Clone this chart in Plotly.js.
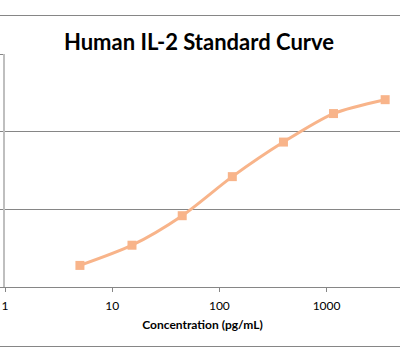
<!DOCTYPE html>
<html>
<head>
<meta charset="utf-8">
<script src="https://cdn.plot.ly/plotly-3.0.1.min.js"></script>
<style>
html,body{margin:0;padding:0;background:#fff;}
#wrap{position:relative;width:400px;height:362px;}
#chart{width:400px;height:362px;}
.frame{position:absolute;left:0;width:400px;height:1px;background:#868686;pointer-events:none;}
</style>
</head>
<body>
<div id="wrap">
<div id="chart"></div>
<div class="frame" style="top:15px"></div>
<div class="frame" style="top:346px"></div>
</div>
<script>
// Data (Concentration pg/mL vs signal)
var concentration = [5.0, 15.3, 45, 132, 396, 1160, 3520];
var signal = [0.278, 0.538, 0.918, 1.421, 1.866, 2.233, 2.412];
var xTickVals = [1, 10, 100, 1000];
var xTickText = ['1', '10', '100', '1000'];

var color = '#F8B48A';
var fontFam = 'Lato, "Open Sans", sans-serif';
var trace = {
  x: concentration,
  y: signal,
  type: 'scatter',
  mode: 'lines+markers',
  line: {color: color, width: 3, shape: 'spline', smoothing: 0.8},
  marker: {symbol: 'square', size: 9, color: color},
  hoverinfo: 'skip',
  cliponaxis: false
};

var layout = {
  width: 400, height: 362,
  margin: {l: 5, r: 0, t: 53.5, b: 74.5},
  paper_bgcolor: '#fff', plot_bgcolor: '#fff',
  showlegend: false,
  font: {family: fontFam, color: '#000'},
  title: {
    text: '<b>Human IL-2 Standard Curve</b>',
    font: {size: 22, family: fontFam, color: '#000'},
    x: 0.4975, xanchor: 'center', xref: 'container',
    y: 0.884, yref: 'container', yanchor: 'middle'
  },
  xaxis: {
    type: 'log',
    range: [0, 3.685],
    tickvals: xTickVals,
    ticktext: xTickText,
    ticks: 'outside', ticklen: 4, tickcolor: '#868686', tickwidth: 1,
    ticklabelstandoff: 4,
    showline: true, linecolor: '#868686', linewidth: 1,
    showgrid: false, zeroline: false,
    tickfont: {size: 12, family: fontFam, color: '#000'},
    title: {text: '<b>Concentration (pg/mL)</b>', font: {size: 12, family: fontFam, color: '#000'}, standoff: 8}
  },
  yaxis: {
    range: [0, 3],
    dtick: 1,
    showticklabels: false,
    ticks: 'outside', ticklen: 4, tickcolor: '#868686',
    showline: true, linecolor: '#BFBFBF', linewidth: 2,
    showgrid: true, gridcolor: '#868686', gridwidth: 1,
    zeroline: false
  }
};

Plotly.newPlot('chart', [trace], layout, {staticPlot: true, displayModeBar: false});
</script>
</body>
</html>
